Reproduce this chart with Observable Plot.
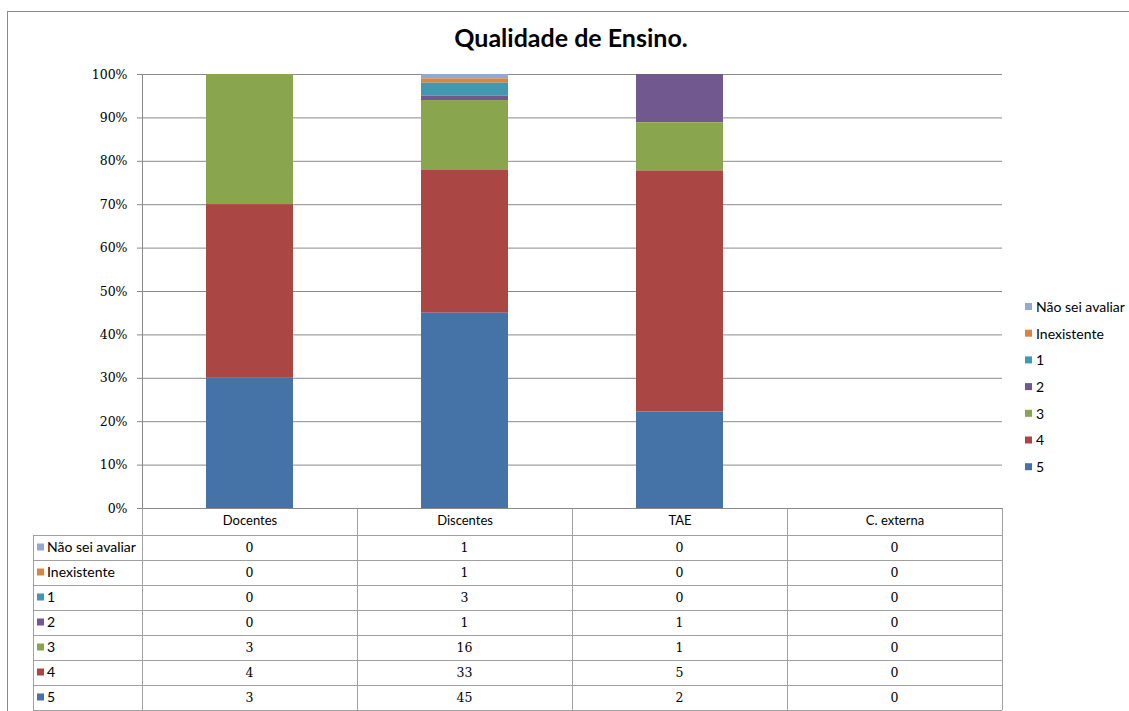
<!DOCTYPE html>
<html><head><meta charset="utf-8">
<script src="https://cdn.jsdelivr.net/npm/d3@7"></script>
<script src="https://cdn.jsdelivr.net/npm/@observablehq/plot@0.6"></script>
<style>body{margin:0;background:#fff}</style>
</head><body><div id="chart"></div>
<script>
const title = "Qualidade de Ensino.";
const categories = ["Docentes", "Discentes", "TAE", "C. externa"];
const series = ["Não sei avaliar", "Inexistente", "1", "2", "3", "4", "5"];
const colors = ["#93A9CF", "#DB843D", "#4198AF", "#71588F", "#89A54E", "#AA4643", "#4572A7"];
const naoSeiAvaliar = [0, 1, 0, 0];
const inexistente = [0, 1, 0, 0];
const nota1 = [0, 3, 0, 0];
const nota2 = [0, 1, 1, 0];
const nota3 = [3, 16, 1, 0];
const nota4 = [4, 33, 5, 0];
const nota5 = [3, 45, 2, 0];
const yTicks = [0, 0.1, 0.2, 0.3, 0.4, 0.5, 0.6, 0.7, 0.8, 0.9, 1];

const valuesBySeries = [naoSeiAvaliar, inexistente, nota1, nota2, nota3, nota4, nota5];
const data = [];
series.forEach((s, i) => categories.forEach((c, j) => data.push({series: s, cat: c, value: valuesBySeries[i][j]})));
const stackOrder = series.slice().reverse();

const sans = "Lato, 'Open Sans', sans-serif";
const serif = "'DejaVu Serif', 'Liberation Serif', serif";

const plot = Plot.plot({
  width: 1129, height: 711,
  marginLeft: 142, marginRight: 127, marginTop: 74, marginBottom: 203,
  style: {background: "#fff", fontFamily: sans, color: "#000"},
  x: {domain: categories, paddingInner: 0.595, paddingOuter: 0.2975, label: null},
  y: {domain: [0, 1], label: null},
  color: {domain: series, range: colors},
  marks: [
    Plot.gridY(yTicks, {stroke: "#8a8a8a", strokeOpacity: 1}),
    Plot.barY(data.filter(d => d.value > 0), {x: "cat", y: "value", fill: "series", offset: "normalize", order: stackOrder}),
    Plot.axisY(yTicks, {tickFormat: d3.format(".0%"), tickSize: 5, tickPadding: 10, stroke: "#8a8a8a", fontFamily: serif, fontSize: 12.5, fill: "#000"}),
    Plot.axisX({tickSize: 0, tickPadding: 7, fontSize: 13, fontFamily: sans, fill: "#000"}),
    Plot.frame({anchor: "left", stroke: "#8a8a8a"})
  ]
});
document.getElementById("chart").appendChild(plot);

const svg = d3.select(plot);
const xs = plot.scale("x");
const xr = xs.range;
const step = (xr[1] - xr[0]) / categories.length;
const colLeft = c => xs.apply(c) - (step - xs.bandwidth) / 2;
const tableLeft = 33, headerTop = 508, rowTop = 535, rowH = 25;
const tableRight = xr[1];
const g = svg.append("g").attr("stroke", "#a0a0a0").attr("fill", "none").attr("shape-rendering", "crispEdges");

// outer chart border
svg.append("rect").attr("x", 7.5).attr("y", 11.5).attr("width", 1125).attr("height", 705)
  .attr("fill", "none").attr("stroke", "#8a8a8a");

// table grid
categories.forEach(c => {
  const l = colLeft(c);
  g.append("line").attr("x1", l + step).attr("x2", l + step).attr("y1", headerTop).attr("y2", rowTop + rowH * series.length);
});
g.append("line").attr("x1", xr[0]).attr("x2", xr[0]).attr("y1", headerTop).attr("y2", rowTop + rowH * series.length);
for (let i = 0; i <= series.length; i++) {
  const y = rowTop + rowH * i;
  g.append("line").attr("x1", tableLeft).attr("x2", tableRight).attr("y1", y).attr("y2", y);
}
g.append("line").attr("x1", tableLeft).attr("x2", tableLeft).attr("y1", rowTop).attr("y2", rowTop + rowH * series.length);

// rows
series.forEach((s, i) => {
  const yc = rowTop + rowH * i + rowH / 2;
  svg.append("rect").attr("x", 37).attr("y", yc - 4).attr("width", 7).attr("height", 7).attr("fill", colors[i]);
  svg.append("text").attr("x", 47).attr("y", yc).attr("dy", "0.35em").attr("text-anchor", "start")
    .attr("font-family", sans).attr("font-size", 14).attr("fill", "#000").text(s);
  categories.forEach((c, j) => {
    svg.append("text").attr("x", xs.apply(c) + xs.bandwidth / 2).attr("y", yc).attr("dy", "0.35em")
      .attr("text-anchor", "middle").attr("font-family", serif).attr("font-size", 12.5).attr("fill", "#000").text(valuesBySeries[i][j]);
  });
});

// legend
series.forEach((s, i) => {
  const yc = 307 + 26.7 * i;
  svg.append("rect").attr("x", 1025).attr("y", yc - 4).attr("width", 7).attr("height", 7).attr("fill", colors[i]);
  svg.append("text").attr("x", 1036).attr("y", yc).attr("dy", "0.35em").attr("text-anchor", "start")
    .attr("font-family", sans).attr("font-size", 14).attr("fill", "#000").text(s);
});

// title
svg.append("text").attr("x", 571).attr("y", 47).attr("text-anchor", "middle")
  .attr("font-family", sans).attr("font-weight", "bold").attr("font-size", 25).attr("fill", "#000").text(title);
</script></body></html>
